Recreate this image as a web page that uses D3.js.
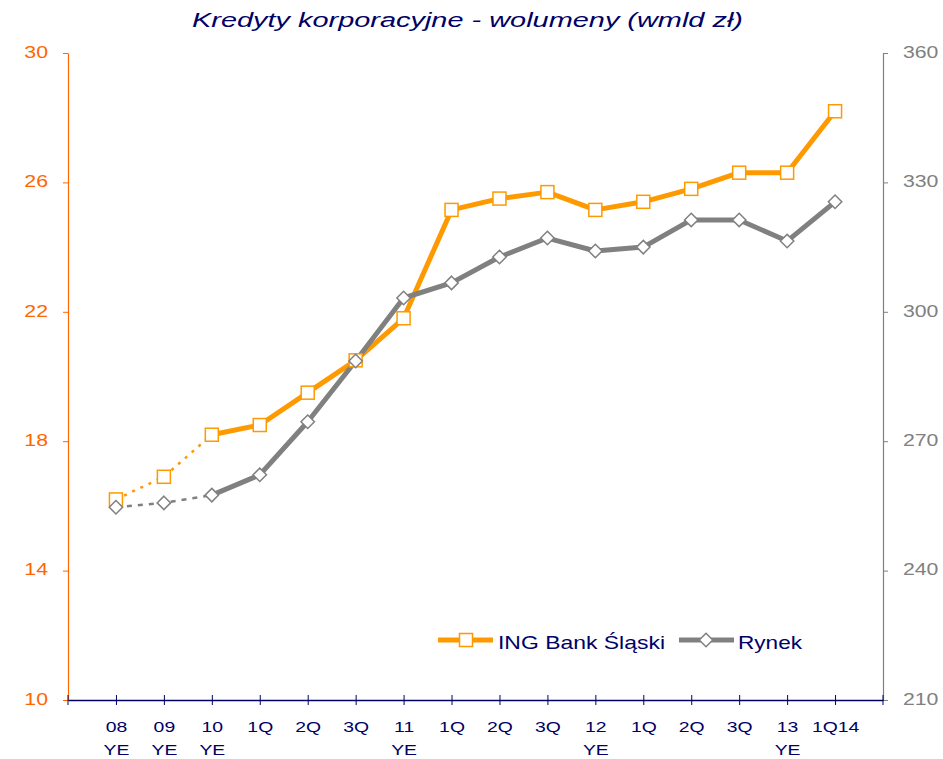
<!DOCTYPE html>
<html>
<head>
<meta charset="utf-8">
<script src="https://cdn.jsdelivr.net/npm/d3@7/dist/d3.min.js"></script>
<style>
  body { margin: 0; background: #fff; }
  text { font-family: "Liberation Sans", Arial, sans-serif; }
</style>
</head>
<body>
<svg id="chart" width="943" height="759"></svg>
<script>
// categories (two-line labels)
let categories = ["08|YE","09|YE","10|YE","1Q|","2Q|","3Q|","11|YE","1Q|","2Q|","3Q|","12|YE","1Q|","2Q|","3Q|","13|YE","1Q14|"]
let ingValues = [16.2, 16.9, 18.2, 18.5, 19.5, 20.5, 21.8, 25.15, 25.5, 25.7, 25.15, 25.4, 25.8, 26.3, 26.3, 28.2]
let rynekValues = [254.7, 255.7, 257.5, 262.2, 274.5, 288.6, 303.2, 306.7, 312.7, 317.1, 314.1, 315, 321.3, 321.3, 316.4, 325.5]
let leftTicks = [10, 14, 18, 22, 26, 30]
let rightTicks = [210, 240, 270, 300, 330, 360]
let seriesNames = ["ING Bank Śląski", "Rynek"]

const orange = "#FF9900", orangeAxis = "#FF6600", gray = "#808080", navy = "#000066"
const pLeft = 68, pRight = 883, pTop = 53, pBottom = 700
const sx = 1.25  // the source picture is stretched sideways

let svg = d3.select('#chart')
let idx = categories.map((d,i) => i)

let x = d3.scalePoint()
    .domain(idx)
    .range([pLeft, pRight])
    .padding(1)
let yL = d3.scaleLinear().domain([10, 30]).range([pBottom, pTop])
let yR = d3.scaleLinear().domain([210, 360]).range([pBottom, pTop])

svg.append("text")
    .attr("x", 192).attr("y", 27)
    .attr("font-size", 20).attr("font-style", "italic")
    .attr("textLength", 551).attr("lengthAdjust", "spacingAndGlyphs")
    .attr("fill", navy)
    .text("Kredyty korporacyjne - wolumeny (wmld zł)")

// left axis
let la = svg.append("g").attr("transform", `translate(${pLeft},0)`)
    .call(d3.axisLeft(yL).tickValues(leftTicks).tickSize(5).tickPadding(11).tickSizeOuter(0))
la.select(".domain").attr("stroke", orangeAxis).attr("stroke-width", 1.2)
la.selectAll(".tick line").attr("stroke", orangeAxis)
la.selectAll(".tick text").attr("fill", orangeAxis).attr("font-size", 17)
    .attr("font-family", "Liberation Sans, Arial").attr("dy", "0.25em")
    .attr("transform", `scale(${sx},1)`)

// right axis
let ra = svg.append("g").attr("transform", `translate(${pRight},0)`)
    .call(d3.axisRight(yR).tickValues(rightTicks).tickSize(5).tickPadding(11).tickSizeOuter(0))
ra.select(".domain").attr("stroke", gray).attr("stroke-width", 1.2)
ra.selectAll(".tick line").attr("stroke", gray)
ra.selectAll(".tick text").attr("fill", gray).attr("font-size", 17)
    .attr("font-family", "Liberation Sans, Arial").attr("dy", "0.25em")
    .attr("transform", `scale(${sx},1)`)

// x axis
let xa = svg.append("g").attr("transform", `translate(0,${pBottom})`)
    .call(d3.axisBottom(x).tickSize(5).tickSizeOuter(0).tickFormat(""))
xa.select(".domain").attr("stroke", navy).attr("stroke-width", 1.5)
xa.selectAll(".tick line").attr("stroke", navy).attr("y1", -5).attr("y2", 5)
xa.selectAll(".tick").each(function(d){
    let parts = categories[d].split("|")
    let g = d3.select(this)
    parts.forEach((p, k) => {
        g.append("text").attr("y", 32 + k*23).attr("text-anchor", "middle")
            .attr("transform", `scale(${sx},1)`)
            .attr("fill", navy).attr("font-size", 15.5).text(p)
    })
})
// end ticks at plot edges
svg.selectAll(".edgeTick").data([pLeft, pRight]).enter().append("line")
    .attr("x1", d => d).attr("x2", d => d)
    .attr("y1", pBottom - 5).attr("y2", pBottom + 5)
    .attr("stroke", navy)

function drawSeries(values, yScale, color, dash, dashWidth){
    let pts = values.map((v,i) => [i, v])
    let line = d3.line().x(d => x(d[0])).y(d => yScale(d[1]))
    svg.append("path")
        .attr("d", line(pts.slice(0, 3)))
        .attr("fill", "none").attr("stroke", color)
        .attr("stroke-width", dashWidth).attr("stroke-dasharray", dash)
    svg.append("path")
        .attr("d", line(pts.slice(2)))
        .attr("fill", "none").attr("stroke", color)
        .attr("stroke-width", 5).attr("stroke-linejoin", "round")
}

drawSeries(ingValues, yL, orange, "3,6", 2.5)
drawSeries(rynekValues, yR, gray, "5,6", 2.5)

// markers
svg.selectAll(".sq").data(ingValues).enter().append("rect")
    .attr("x", (d,i) => x(i) - 6.5).attr("y", d => yL(d) - 6.5)
    .attr("width", 13).attr("height", 13)
    .attr("fill", "#fff").attr("stroke", orange).attr("stroke-width", 1.5)

let diamond = d3.symbol().type(d3.symbolDiamond2).size(115)
svg.selectAll(".dm").data(rynekValues).enter().append("path")
    .attr("d", diamond)
    .attr("transform", (d,i) => `translate(${x(i)},${yR(d)})`)
    .attr("fill", "#fff").attr("stroke", gray).attr("stroke-width", 1.5)

// legend
let lg = svg.append("g")
lg.append("line").attr("x1", 438).attr("x2", 493).attr("y1", 640).attr("y2", 640)
    .attr("stroke", orange).attr("stroke-width", 5)
lg.append("rect").attr("x", 459.5).attr("y", 633.5).attr("width", 13).attr("height", 13)
    .attr("fill", "#fff").attr("stroke", orange).attr("stroke-width", 1.5)
lg.append("text").attr("x", 498).attr("y", 649).attr("font-size", 19).attr("fill", navy)
    .attr("textLength", 167).attr("lengthAdjust", "spacingAndGlyphs").text(seriesNames[0])
lg.append("line").attr("x1", 679).attr("x2", 734).attr("y1", 640).attr("y2", 640)
    .attr("stroke", gray).attr("stroke-width", 5)
lg.append("path").attr("d", diamond).attr("transform", "translate(706,640)")
    .attr("fill", "#fff").attr("stroke", gray).attr("stroke-width", 1.5)
lg.append("text").attr("x", 738).attr("y", 649).attr("font-size", 19).attr("fill", navy)
    .attr("textLength", 64).attr("lengthAdjust", "spacingAndGlyphs").text(seriesNames[1])
</script>
</body>
</html>
